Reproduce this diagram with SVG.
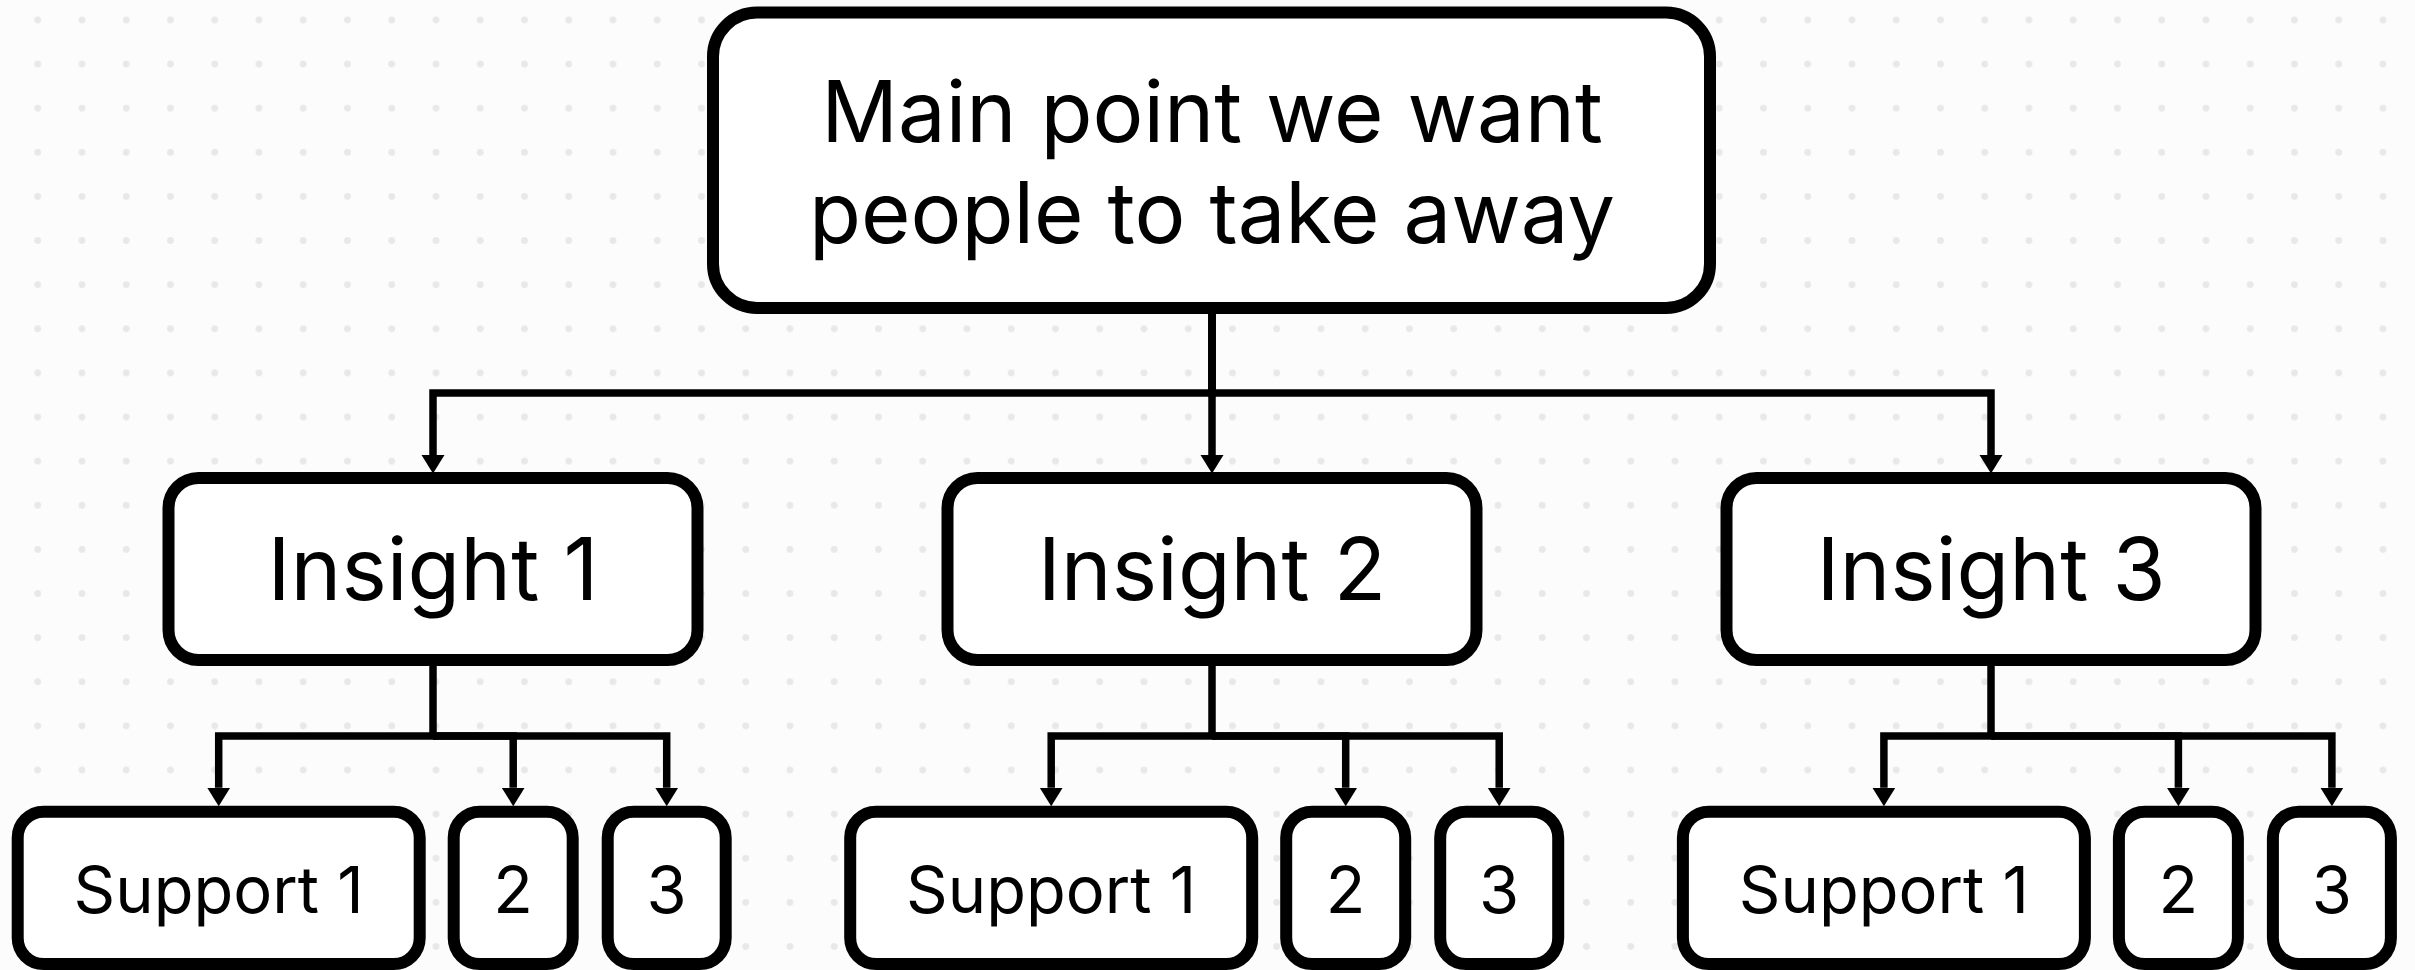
<svg xmlns="http://www.w3.org/2000/svg" width="2415" height="970" viewBox="0 0 2415 970">
  <defs>
    <pattern id="dots" patternUnits="userSpaceOnUse" x="15.6" y="-2.1" width="44.25" height="44.12">
      <circle cx="22.125" cy="22.06" r="3.4" fill="#e8e8e8"/>
    </pattern>
    <marker id="arrow" markerUnits="userSpaceOnUse" markerWidth="19" markerHeight="24" refX="0" refY="11.5" orient="auto" viewBox="0 0 19 23">
      <path d="M0,0 L18.5,11.5 L0,23 Z" fill="#000"/>
    </marker>
    <style>
      .box { fill: #ffffff; stroke: #000000; stroke-width: 12; }
      .conn { fill: none; stroke: #000000; stroke-width: 7.5; stroke-linejoin: miter; stroke-linecap: butt; marker-end: url(#arrow); }
      .t-main { font-family: Inter, "Liberation Sans", sans-serif; font-size: 85px; fill: #000; text-anchor: middle; }
      .t-ins { font-family: Inter, "Liberation Sans", sans-serif; font-size: 86px; fill: #000; text-anchor: middle; }
      .t-sup { font-family: Inter, "Liberation Sans", sans-serif; font-size: 65px; fill: #000; text-anchor: middle; }
    </style>
  </defs>
  <rect x="0" y="0" width="2415" height="970" fill="#fcfcfc"/>
  <rect x="0" y="0" width="2415" height="970" fill="url(#dots)"/>

  <g id="connectors">
    <path class="conn" d="M1212,314 V393 H433 V455"/>
    <path class="conn" d="M1212,314 V455"/>
    <path class="conn" d="M1212,314 V393 H1991 V455"/>

    <path class="conn" d="M433,666 V736 H218.7 V787.7"/>
    <path class="conn" d="M433,736 H513.2 V787.7"/>
    <path class="conn" d="M433,736 H666.7 V787.7"/>

    <path class="conn" d="M1212,666 V736 H1051.2 V787.7"/>
    <path class="conn" d="M1212,736 H1345.7 V787.7"/>
    <path class="conn" d="M1212,736 H1499.2 V787.7"/>

    <path class="conn" d="M1991,666 V736 H1883.9 V787.7"/>
    <path class="conn" d="M1991,736 H2178.4 V787.7"/>
    <path class="conn" d="M1991,736 H2331.9 V787.7"/>
  </g>

  <g id="main">
    <rect class="box" x="713" y="12.5" width="997" height="295.5" rx="44" ry="44"/>
    <text class="t-main" x="1212" y="142">Main point we want</text>
    <text class="t-main" x="1212" y="243">people to take away</text>
  </g>

  <g id="insight1">
    <rect class="box" x="168.5" y="478" width="529" height="182" rx="30" ry="30"/>
    <text class="t-ins" x="433" y="600">Insight 1</text>
  </g>
  <g id="insight2">
    <rect class="box" x="947.5" y="478" width="529" height="182" rx="30" ry="30"/>
    <text class="t-ins" x="1212" y="600">Insight 2</text>
  </g>
  <g id="insight3">
    <rect class="box" x="1726.5" y="478" width="529" height="182" rx="30" ry="30"/>
    <text class="t-ins" x="1991" y="600">Insight 3</text>
  </g>

  <g id="support1-1">
    <rect class="box" x="17.7" y="811.7" width="402" height="152.3" rx="26" ry="26"/>
    <text class="t-sup" x="218.7" y="913">Support 1</text>
  </g>
  <g id="support1-2">
    <rect class="box" x="453.7" y="811.7" width="119" height="152.3" rx="26" ry="26"/>
    <text class="t-sup" x="513.2" y="913">2</text>
  </g>
  <g id="support1-3">
    <rect class="box" x="607.7" y="811.7" width="118" height="152.3" rx="26" ry="26"/>
    <text class="t-sup" x="666.7" y="913">3</text>
  </g>

  <g id="support2-1">
    <rect class="box" x="850.2" y="811.7" width="402" height="152.3" rx="26" ry="26"/>
    <text class="t-sup" x="1051.2" y="913">Support 1</text>
  </g>
  <g id="support2-2">
    <rect class="box" x="1286.2" y="811.7" width="119" height="152.3" rx="26" ry="26"/>
    <text class="t-sup" x="1345.7" y="913">2</text>
  </g>
  <g id="support2-3">
    <rect class="box" x="1440.2" y="811.7" width="118" height="152.3" rx="26" ry="26"/>
    <text class="t-sup" x="1499.2" y="913">3</text>
  </g>

  <g id="support3-1">
    <rect class="box" x="1682.9" y="811.7" width="402" height="152.3" rx="26" ry="26"/>
    <text class="t-sup" x="1883.9" y="913">Support 1</text>
  </g>
  <g id="support3-2">
    <rect class="box" x="2118.9" y="811.7" width="119" height="152.3" rx="26" ry="26"/>
    <text class="t-sup" x="2178.4" y="913">2</text>
  </g>
  <g id="support3-3">
    <rect class="box" x="2272.9" y="811.7" width="118" height="152.3" rx="26" ry="26"/>
    <text class="t-sup" x="2331.9" y="913">3</text>
  </g>
</svg>
